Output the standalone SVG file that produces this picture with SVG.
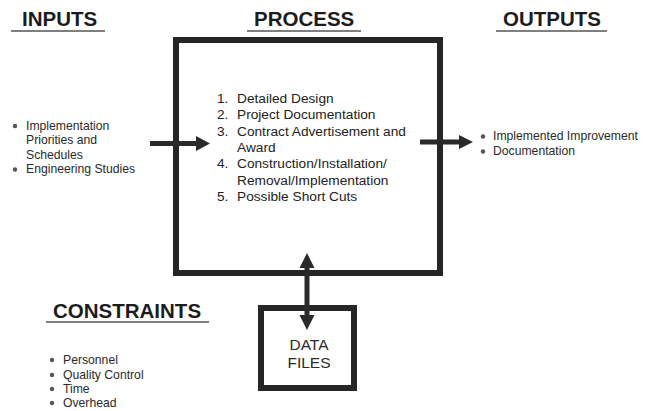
<svg xmlns="http://www.w3.org/2000/svg" width="650" height="411" viewBox="0 0 650 411">
  <style>
    .hdr { font-family: "Liberation Sans", Arial, sans-serif; font-weight: bold; font-size: 20.5px; fill: #1c1c1c; }
    .uline { stroke: #555; stroke-width: 1.6; }
    .txt { font-family: "Liberation Sans", Arial, sans-serif; font-size: 12.2px; fill: #2a2a2a; }
    .proc { font-family: "Liberation Sans", Arial, sans-serif; font-size: 13.7px; fill: #222; }
    .box { fill: #fff; stroke: #262626; stroke-width: 6; }
    .bullet { fill: #555; }
    .arrow { fill: #2a2a2a; }
    .label { font-family: "Liberation Sans", Arial, sans-serif; font-size: 15.5px; fill: #2a2a2a; text-anchor: middle; }
  </style>
  <rect width="650" height="411" fill="#fff"/>

  <!-- section headings -->
  <g id="headings">
    <text class="hdr" x="22" y="26">INPUTS</text>
    <line class="uline" x1="11" y1="31" x2="105" y2="31"/>
    <text class="hdr" x="254" y="26">PROCESS</text>
    <line class="uline" x1="247" y1="31" x2="361" y2="31"/>
    <text class="hdr" x="503" y="26">OUTPUTS</text>
    <line class="uline" x1="496" y1="31" x2="607" y2="31"/>
    <text class="hdr" x="53" y="318">CONSTRAINTS</text>
    <line class="uline" x1="46" y1="322" x2="209" y2="322"/>
  </g>

  <!-- inputs list -->
  <g id="inputs">
    <circle class="bullet" cx="15" cy="126" r="2.2"/>
    <text class="txt" x="26" y="129.5">Implementation</text>
    <text class="txt" x="26" y="144">Priorities and</text>
    <text class="txt" x="26" y="158.5">Schedules</text>
    <circle class="bullet" cx="15" cy="169.5" r="2.2"/>
    <text class="txt" x="26" y="173">Engineering Studies</text>
  </g>

  <!-- process box -->
  <g id="process">
    <rect class="box" x="176" y="40" width="264" height="233"/>
    <text class="proc" x="217" y="103">1.</text>
    <text class="proc" x="237" y="103">Detailed Design</text>
    <text class="proc" x="217" y="119">2.</text>
    <text class="proc" x="237" y="119">Project Documentation</text>
    <text class="proc" x="217" y="135.5">3.</text>
    <text class="proc" x="237" y="135.5">Contract Advertisement and</text>
    <text class="proc" x="237" y="152">Award</text>
    <text class="proc" x="217" y="168">4.</text>
    <text class="proc" x="237" y="168">Construction/Installation/</text>
    <text class="proc" x="237" y="184.5">Removal/Implementation</text>
    <text class="proc" x="217" y="201">5.</text>
    <text class="proc" x="237" y="201">Possible Short Cuts</text>
  </g>

  <!-- outputs list -->
  <g id="outputs">
    <circle class="bullet" cx="483" cy="136.5" r="2.2"/>
    <text class="txt" x="493" y="140">Implemented Improvement</text>
    <circle class="bullet" cx="483" cy="151.5" r="2.2"/>
    <text class="txt" x="493" y="155">Documentation</text>
  </g>

  <!-- constraints list -->
  <g id="constraints">
    <circle class="bullet" cx="52" cy="360" r="2.2"/>
    <text class="txt" x="63" y="364">Personnel</text>
    <circle class="bullet" cx="52" cy="375" r="2.2"/>
    <text class="txt" x="63" y="379">Quality Control</text>
    <circle class="bullet" cx="52" cy="389" r="2.2"/>
    <text class="txt" x="63" y="393">Time</text>
    <circle class="bullet" cx="52" cy="403" r="2.2"/>
    <text class="txt" x="63" y="407">Overhead</text>
  </g>

  <!-- data files store -->
  <g id="data-files">
    <rect class="box" x="261" y="308" width="93" height="80"/>
    <text class="label" x="309" y="350">DATA</text>
    <text class="label" x="309" y="368">FILES</text>
  </g>

  <!-- block arrows -->
  <g id="connectors">
    <path class="arrow" d="M150,141 L196,141 L196,136 L210,143.5 L196,151 L196,146 L150,146 Z"/>
    <path class="arrow" d="M420,139.5 L459,139.5 L459,135 L473,142 L459,149 L459,144.5 L420,144.5 Z"/>
    <path class="arrow" d="M307,253 L314.5,268 L309.5,268 L309.5,315 L314.5,315 L307,330 L299.5,315 L304.5,315 L304.5,268 L299.5,268 Z"/>
  </g>
</svg>
